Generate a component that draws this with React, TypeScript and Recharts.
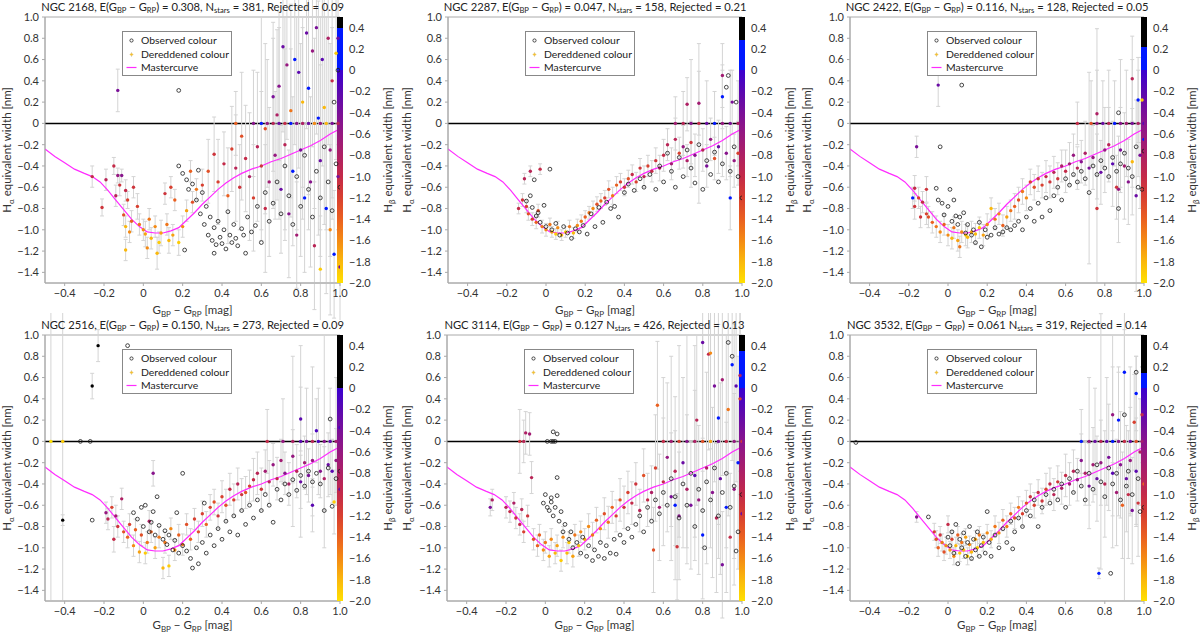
import React from 'react';
import {
  ComposedChart,
  Scatter,
  Line,
  XAxis,
  YAxis,
  ErrorBar,
  ReferenceLine,
  ReferenceArea,
  Label,
} from 'recharts';

// ---- values ----
const clusterNames = ['NGC 2168', 'NGC 2287', 'NGC 2422', 'NGC 2516', 'NGC 3114', 'NGC 3532'];
const reddening = ['0.308', '0.047', '0.116', '0.150', '0.127', '0.061'];
const nStars = [381, 158, 128, 273, 426, 319];
const rejected = ['0.09', '0.21', '0.05', '0.09', '0.13', '0.14'];
const commaAfterE = [true, true, true, true, false, false];
// upper end of the blue band in each colour bar (black above it)
const blueTop = [0.4, 0.28, 0.22, 0.0, 0.35, 0.14];

const xTicks = [-0.4, -0.2, 0, 0.2, 0.4, 0.6, 0.8, 1.0];
const yTicks = [-1.4, -1.2, -1.0, -0.8, -0.6, -0.4, -0.2, 0, 0.2, 0.4, 0.6, 0.8, 1.0];
const cbTicks = [-2.0, -1.8, -1.6, -1.4, -1.2, -1.0, -0.8, -0.6, -0.4, -0.2, 0, 0.2, 0.4];

const masterX = [-0.5, -0.45, -0.4, -0.35, -0.3, -0.26, -0.22, -0.18, -0.14, -0.1, -0.06, -0.02, 0.02, 0.06, 0.1, 0.14, 0.18, 0.22, 0.26, 0.3, 0.34, 0.38, 0.42, 0.46, 0.5, 0.55, 0.6, 0.65, 0.7, 0.75, 0.8, 0.85, 0.9, 0.95, 1.0];
const masterY = [-0.24, -0.31, -0.37, -0.43, -0.47, -0.5, -0.55, -0.63, -0.72, -0.81, -0.9, -0.97, -1.02, -1.03, -1.03, -1.01, -0.98, -0.91, -0.84, -0.76, -0.69, -0.62, -0.56, -0.51, -0.47, -0.43, -0.4, -0.36, -0.33, -0.29, -0.25, -0.21, -0.16, -0.1, -0.05];

// dereddened stars: [colour, Halpha EW, Hbeta EW, error]
const ngc2168Dered = [
  [-0.26,-0.50,-1.0,0.1],[-0.21,-0.79,-1.1,0.08],[-0.19,-0.53,-0.9,0.1],[-0.15,-0.40,-1.0,0.08],[-0.13,-0.49,-0.6,0.07],[-0.11,-0.49,-0.5,0.06],[-0.12,-0.58,-1.1,0.1],[-0.09,-0.63,-1.0,0.1],[-0.14,-0.68,-0.9,0.1],[-0.08,-0.72,-1.2,0.08],[-0.05,-0.60,-1.1,0.1],[-0.03,-0.78,-1.2,0.12],[-0.10,-0.86,-1.3,0.1],[-0.06,-0.92,-1.4,0.1],[-0.09,-0.97,-1.8,0.1],[-0.07,-1.02,-1.6,0.1],[-0.02,-0.95,-1.5,0.1],[0.00,-1.00,-1.6,0.1],[0.01,-1.04,-1.7,0.12],[0.03,-0.90,-1.5,0.1],[0.04,-1.08,-1.8,0.1],[0.06,-0.97,-1.6,0.1],[0.08,-1.12,-1.9,0.1],[0.09,-1.03,-1.7,0.12],[0.11,-0.66,-1.1,0.1],[0.12,-0.95,-1.5,0.1],[0.13,-1.10,-1.8,0.12],[0.15,-1.05,-1.7,0.1],[0.16,-0.72,-1.4,0.1],[0.18,-1.12,-1.9,0.12],[0.2,-0.97,-1.6,0.1],[0.22,-0.82,-1.7,0.1],[-0.09,-1.19,-1.8,0.1],[0.02,-1.17,-1.6,0.1],[0.07,-1.22,-1.8,0.15],[0.14,-0.60,-1.2,0.1],[0.24,-0.45,-1.4,0.1],[0.25,-0.74,-1.3,0.1],[0.27,-0.62,-1.5,0.1],[0.3,-0.58,-1.2,0.15],
  [0.33,-0.45,-1.3,0.3],[0.36,-0.29,-1.1,0.35],[0.38,-0.55,-1.2,0.4],[0.41,-0.38,-1.0,0.3],[0.43,-0.68,-1.4,0.45],[0.45,-0.24,-1.2,0.4],[0.47,-0.42,-0.9,0.5],[0.49,-0.60,-1.1,0.4],[0.5,-0.12,-1.3,0.6],[0.52,-0.33,-1.0,0.5],[0.54,-0.50,-0.8,0.6],[0.56,-0.70,-1.2,0.5],[0.58,-0.22,-0.9,0.7],[0.6,-0.40,-1.1,0.7],[0.62,-0.05,-1.3,0.8],[0.64,-0.55,-0.7,0.7],[0.62,-0.80,-1.0,0.6],
  [0.66,0.25,-0.4,0.7],[0.67,-0.30,-0.6,0.6],[0.68,0.08,-0.8,0.8],[0.69,0.35,-0.5,0.7],[0.7,-0.62,-0.3,0.6],[0.71,0.72,-0.3,0.8],[0.72,-0.20,-0.9,0.9],[0.73,0.55,-0.6,0.7],[0.74,-0.85,-0.5,0.6],[0.75,0.12,-1.5,1.0],[0.76,-0.45,0.2,0.7],[0.77,0.60,0.2,0.8],[0.78,-1.05,-0.7,0.5],[0.79,0.48,-0.2,0.9],[0.8,-0.25,-0.4,1.0],[0.81,0.20,-1.8,0.8],[0.82,-0.70,0.3,0.7],[0.83,0.85,-0.3,0.9],[0.84,0.33,0.2,1.0],[0.85,-0.55,-0.5,0.8],[0.86,0.68,-0.6,0.9],[0.87,-1.15,-0.9,0.6],[0.88,0.90,-0.4,1.0],[0.89,0.05,0.1,1.1],[0.9,-1.37,-1.9,0.5],[0.9,-0.35,-0.3,0.9],[0.91,0.60,-0.2,1.0],[0.92,0.15,-1.8,1.1],[0.93,-0.80,0.2,0.8],[0.94,0.80,-0.8,1.0],[0.95,-0.25,-0.6,1.0],[0.96,0.40,-1.0,1.1],[0.97,-1.23,0.2,0.6],[0.98,0.66,-1.9,1.0],[0.99,-0.50,-0.4,1.0],[0.99,0.80,-0.3,1.0],[1.0,-1.35,-0.3,0.6],[0.95,-1.0,-1.6,0.8],
  [0.47,0,-1.4,0.3],[0.56,0,-0.5,0.5],[0.6,0,0.2,1.0],[0.63,0,-0.6,0.6],[0.66,0,-0.9,0.8],[0.69,0,-0.3,0.9],[0.72,0,-1.0,1.0],[0.75,0,0.1,0.7],[0.78,0,-0.5,1.0],[0.81,0,-0.8,0.9],[0.84,0,-0.3,1.0],[0.87,0,-1.6,0.8],[0.9,0,-0.6,1.0],[0.93,0,-1.8,1.0],[0.96,0,-0.4,0.9],[0.99,0,-0.9,1.0],
  [-0.13,0.31,-0.4,0.2],
];
const ngc2168Obs = [
  [0.18,-0.40],[0.20,-0.47],[0.22,-0.53],[0.23,-0.62],[0.25,-0.57],[0.27,-0.72],[0.28,-0.44],[0.29,-0.85],[0.3,-0.65],[0.31,-0.95],[0.32,-0.78],[0.33,-1.05],[0.34,-0.88],[0.35,-1.1],[0.36,-0.98],[0.37,-1.14],[0.38,-0.92],[0.39,-1.07],[0.4,-1.13],[0.41,-1.0],[0.42,-1.18],[0.43,-0.83],[0.44,-1.05],[0.45,-1.12],[0.46,-0.95],[0.47,-1.08],[0.48,-1.15],[0.5,-0.99],[0.51,-1.05],[0.52,-1.22],[0.53,-0.88],[0.55,-1.02],[0.57,-0.96],[0.58,-0.78],[0.6,-1.12],[0.62,-0.65],[0.64,-0.92],[0.66,-0.75],[0.68,-0.55],[0.7,-0.85],[0.72,-0.40],[0.74,-0.68],[0.76,-0.95],[0.78,-0.50],[0.8,-0.78],[0.82,-0.30],[0.84,-0.62],[0.86,-0.88],[0.88,-0.45],[0.9,-0.70],[0.92,-0.22],[0.94,-0.55],[0.96,-0.82],[0.98,-0.38],[1.0,-0.60],[0.18,0.31],[0.99,0.5],[0.97,0.2],[0.21,-1.19],[0.36,-1.22],
];

const ngc2287Dered = [
  [-0.14,-0.80,-1.0,0.05],[-0.12,-0.72,-1.1,0.06],[-0.11,-0.52,-0.9,0.05],[-0.1,-0.78,-1.2,0.06],[-0.08,-0.45,-0.9,0.05],[-0.09,-0.85,-1.3,0.06],[-0.07,-0.90,-1.2,0.06],[-0.05,-0.93,-1.4,0.06],[-0.04,-0.82,-1.3,0.06],[-0.03,-0.43,-1.0,0.05],[-0.02,-0.97,-1.5,0.06],[0.0,-1.0,-1.6,0.06],[0.02,-0.95,-1.5,0.06],[0.03,-1.02,-1.7,0.05],[0.05,-1.04,-1.9,0.05],[0.06,-0.98,-1.6,0.06],[0.08,-1.05,-1.8,0.05],[0.1,-1.02,-1.9,0.05],[0.12,-0.97,-1.5,0.06],[0.14,-1.03,-1.8,0.05],[0.16,-0.96,-1.6,0.06],[0.18,-0.92,-1.5,0.06],[0.2,-0.88,-1.4,0.06],[0.22,-0.84,-1.5,0.06],[0.24,-0.80,-1.6,0.07],[0.26,-0.76,-1.3,0.07],[0.28,-0.73,-1.4,0.07],[0.3,-0.70,-1.2,0.07],[0.32,-0.62,-1.3,0.08],[0.34,-0.68,-1.5,0.08],[0.36,-0.58,-1.4,0.08],[0.38,-0.55,-1.2,0.08],[0.4,-0.60,-1.1,0.08],[0.42,-0.52,-1.3,0.08],[0.44,-0.48,-1.0,0.09],[0.46,-0.55,-1.2,0.09],[0.48,-0.42,-1.1,0.09],[0.5,-0.50,-0.9,0.1],[0.52,-0.40,-1.2,0.1],[0.54,-0.45,-1.0,0.1],[0.56,-0.35,-1.1,0.12],[0.58,-0.42,-0.8,0.12],[0.6,-0.30,-1.0,0.15],[0.62,-0.20,-0.9,0.15],[0.64,-0.38,-0.7,0.15],[0.66,-0.15,-0.9,0.2],[0.68,-0.28,-1.2,0.15],[0.7,-0.22,-0.6,0.2],[0.72,-0.35,-0.8,0.15],[0.74,-0.18,-1.1,0.2],[0.76,-0.30,-0.5,0.2],[0.78,0.19,-0.7,0.3],[0.8,-0.25,-0.9,0.2],[0.82,-0.40,-0.4,0.2],[0.84,-0.15,-0.6,0.2],[0.86,-0.33,-1.3,0.2],[0.88,-0.22,-0.3,0.25],[0.9,0.45,-0.7,0.3],[0.9,0.25,0.1,0.3],[0.92,-0.28,-0.5,0.25],[0.94,-0.70,0.2,0.3],[0.95,0.20,-0.4,0.3],[0.96,-0.35,-0.6,0.25],[0.98,-0.28,-1.2,0.3],[1.0,0.22,-0.3,0.3],[0.72,0.18,-0.8,0.25],
  [0.66,0,-0.7,0.25],[0.7,0,-0.9,0.3],[0.74,0,-0.5,0.6],[0.78,0,-1.0,0.75],[0.82,0,-0.3,0.4],[0.86,0,0.1,0.3],[0.9,0,-0.6,0.5],[0.94,0,-0.4,0.5],[0.98,0,-0.8,0.4],
];
const ngc2287Obs = [
  [-0.1,-0.73],[-0.08,-0.68],[-0.07,-0.79],[-0.06,-0.53],[-0.05,-0.87],[-0.04,-0.84],[-0.03,-0.93],[-0.01,-0.77],[0.0,-0.97],[0.02,-0.43],[0.03,-1.0],[0.05,-0.94],[0.07,-1.05],[0.09,-0.97],[0.11,-1.03],[0.13,-1.08],[0.15,-0.99],[0.17,-1.02],[0.19,-0.96],[0.21,-1.04],[0.23,-0.85],[0.25,-0.97],[0.27,-0.79],[0.29,-0.93],[0.31,-0.74],[0.33,-0.80],[0.35,-0.78],[0.37,-0.88],[0.4,-0.65],[0.42,-0.57],[0.45,-0.63],[0.48,-0.52],[0.5,-0.60],[0.53,-0.48],[0.56,-0.62],[0.58,-0.40],[0.6,-0.55],[0.62,-0.28],[0.64,-0.45],[0.66,-0.60],[0.68,-0.32],[0.7,-0.50],[0.72,-0.25],[0.74,-0.42],[0.76,-0.56],[0.78,-0.20],[0.8,-0.62],[0.82,-0.35],[0.84,-0.48],[0.86,-0.27],[0.88,-0.55],[0.9,-0.38],[0.92,0.34],[0.93,0.45],[0.94,-0.45],[0.96,-0.22],[0.98,-0.50],[1.0,-0.70],[0.97,0.2],
];

const ngc2422Dered = [
  [-0.18,-0.70,0.1,0.1],[-0.17,-0.61,-1.0,0.12],[-0.17,-0.78,-1.1,0.12],[-0.15,-0.70,-1.2,0.1],[-0.14,-0.88,-1.1,0.1],[-0.13,-0.74,-1.0,0.1],[-0.11,-0.62,-1.1,0.12],[-0.11,-0.85,-1.2,0.1],[-0.1,-0.88,-1.3,0.1],[-0.16,-0.22,-0.4,0.1],[-0.05,0.36,-0.3,0.2],[-0.08,-0.93,-1.4,0.1],[-0.06,-0.97,-1.5,0.1],[-0.04,-1.02,-1.6,0.1],[-0.02,-0.95,-1.4,0.1],[0.0,-1.05,-1.6,0.1],[0.02,-1.08,-1.8,0.1],[0.03,-0.98,-1.5,0.1],[0.05,-1.10,-1.7,0.1],[0.06,-1.16,-1.5,0.1],[0.07,-1.02,-1.6,0.1],[0.09,-1.05,-1.9,0.1],[0.1,-1.07,-1.8,0.1],[0.12,-1.02,-1.7,0.1],[0.14,-1.04,-1.8,0.1],[0.16,-0.98,-1.9,0.1],[0.18,-1.05,-1.7,0.1],[0.2,-0.95,-1.6,0.1],[0.22,-0.80,-1.8,0.1],[0.24,-0.90,-1.5,0.1],[0.26,-0.85,-1.6,0.1],[0.28,-0.96,-1.4,0.1],[0.3,-0.88,-1.7,0.1],[0.32,-0.82,-1.5,0.1],[0.34,-0.78,-1.4,0.12],[0.36,-0.72,-1.3,0.12],[0.38,-0.64,-1.5,0.12],[0.4,-0.70,-1.6,0.12],[0.42,-0.55,-1.2,0.12],[0.44,-0.60,-1.3,0.12],[0.46,-0.52,-1.1,0.12],[0.48,-0.58,-1.2,0.12],[0.5,-0.50,-1.0,0.15],[0.52,-0.55,-1.1,0.15],[0.54,-0.46,-0.9,0.15],[0.56,-0.52,-1.1,0.15],[0.58,-0.40,-0.8,0.15],[0.6,-0.45,-1.0,0.2],[0.62,-0.38,-0.7,0.2],[0.64,-0.30,-0.6,0.2],[0.66,-0.42,-0.9,0.2],[0.68,-0.36,-0.5,0.2],[0.7,-0.28,-0.8,0.3],[0.72,-0.42,-0.4,0.9],[0.74,-0.32,-0.6,0.3],[0.76,0.09,-0.8,0.8],[0.76,-0.80,-1.1,0.7],[0.78,-0.46,-0.3,0.3],[0.8,-0.25,-0.6,0.4],[0.82,-0.20,-0.9,0.35],[0.84,-0.38,-0.2,0.4],[0.86,-0.60,-1.1,0.3],[0.87,-0.62,-0.6,0.5],[0.88,-0.25,-0.4,0.4],[0.9,-0.40,-0.7,0.5],[0.92,-0.55,-0.5,0.4],[0.94,-0.36,-1.8,0.5],[0.94,0.42,-0.9,0.4],[0.96,-0.68,-0.3,0.9],[0.97,0.22,0.1,0.4],[0.99,0.22,-1.9,0.4],[1.0,-0.15,0.2,0.4],[0.98,-0.30,-0.4,0.5],
  [0.66,0,-1.0,0.2],[0.73,0,-1.3,0.4],[0.76,0,-0.6,0.5],[0.79,0,-0.3,0.4],[0.82,0,-0.9,0.5],[0.85,0,0.1,0.4],[0.88,0,-0.5,0.6],[0.91,0,-0.7,0.5],[0.94,0,-0.4,0.6],[0.97,0,-0.8,0.5],[1.0,0,-0.2,0.6],
];
const ngc2422Obs = [
  [-0.06,-0.61],[-0.05,-0.72],[-0.04,-0.22],[-0.03,-0.75],[-0.02,-0.86],[0.0,-0.78],[0.01,-0.62],[0.02,-0.92],[0.03,-0.72],[0.04,-0.87],[0.05,-0.95],[0.06,-0.88],[0.07,0.36],[0.08,-0.84],[0.09,-1.03],[0.1,-0.95],[0.12,-1.05],[0.13,-1.0],[0.14,-1.12],[0.16,-0.93],[0.17,-1.16],[0.19,-1.0],[0.2,-1.07],[0.22,-1.05],[0.24,-0.98],[0.26,-1.04],[0.28,-1.02],[0.3,-0.98],[0.32,-1.0],[0.34,-0.96],[0.36,-0.92],[0.38,-1.0],[0.4,-0.88],[0.42,-0.80],[0.44,-0.92],[0.46,-0.75],[0.48,-0.88],[0.5,-0.70],[0.52,-0.82],[0.54,-0.68],[0.56,-0.60],[0.58,-0.72],[0.6,-0.52],[0.62,-0.58],[0.64,-0.48],[0.66,-0.55],[0.68,-0.45],[0.7,-0.52],[0.72,-0.65],[0.74,-0.40],[0.76,-0.48],[0.78,-0.35],[0.8,-0.42],[0.82,-0.50],[0.84,-0.32],[0.86,-0.45],[0.87,0.10],[0.87,-0.80],[0.88,-0.38],[0.9,-0.28],[0.92,-0.42],[0.94,-0.50],[0.96,-0.22],[0.97,-0.60],[0.99,-0.62],[1.0,-0.26],
];

const ngc2516Dered = [
  [-0.47,0,-2.0,1.5],[-0.41,0,-1.9,1.5],[-0.41,-0.74,0.2,0.05],[-0.26,0.52,0.1,0.12],[-0.23,0.90,0.2,0.15],[-0.19,-0.67,-0.6,0.1],[-0.18,-0.73,-0.9,0.1],[-0.16,-0.62,-1.2,0.1],[-0.15,-0.92,-1.0,0.12],[-0.14,-0.70,-0.7,0.1],[-0.13,-0.80,-1.1,0.1],[-0.11,-0.54,-0.8,0.1],[-0.1,-0.85,-1.3,0.1],[-0.08,-0.90,-1.4,0.1],[-0.07,-0.78,-1.2,0.1],[-0.05,-0.98,-1.6,0.1],[-0.04,-0.83,-1.4,0.1],[-0.02,-1.04,-1.7,0.1],[-0.01,-0.88,-1.3,0.1],[0.01,-1.05,-1.9,0.1],[0.02,-0.95,-1.5,0.1],[0.03,-0.75,-0.8,0.1],[0.04,-0.85,-1.4,0.1],[0.05,-0.30,-0.5,0.12],[0.06,-1.0,-1.7,0.1],[0.08,-0.90,-1.5,0.1],[0.1,-1.19,-1.8,0.1],[0.11,-0.95,-1.5,0.1],[0.13,-1.17,-1.9,0.1],[0.14,-0.82,-1.6,0.1],[0.16,-1.02,-1.6,0.1],[0.18,-0.88,-1.4,0.1],[0.2,-0.97,-1.5,0.1],[0.22,-0.78,-1.3,0.1],[0.24,-0.92,-1.4,0.1],[0.26,-0.73,-1.2,0.1],[0.28,-0.85,-1.3,0.1],[0.3,-0.68,-1.2,0.12],[0.32,-0.78,-1.4,0.12],[0.34,-0.62,-1.2,0.12],[0.36,-0.57,-1.3,0.12],[0.38,-0.70,-1.1,0.12],[0.4,-0.52,-1.2,0.15],[0.42,-0.60,-1.3,0.15],[0.44,-0.45,-1.0,0.15],[0.46,-0.55,-1.2,0.15],[0.48,-0.40,-0.9,0.15],[0.5,-0.50,-1.1,0.15],[0.52,-0.48,-1.3,0.15],[0.54,-0.42,-1.2,0.15],[0.56,-0.36,-1.0,0.2],[0.58,-0.30,-0.9,0.2],[0.6,-0.45,-1.1,0.2],[0.62,-0.28,-0.7,0.2],[0.64,-0.38,-0.9,0.2],[0.66,-0.22,-0.6,0.2],[0.68,-0.35,-1.0,0.2],[0.7,-0.18,-0.7,0.2],[0.72,-0.30,-0.5,0.2],[0.74,-0.40,-0.8,0.2],[0.76,-0.14,-0.6,0.25],[0.78,-0.28,-0.9,0.25],[0.8,0.21,-0.2,0.3],[0.8,-0.38,-0.3,0.25],[0.82,-0.20,-0.7,0.25],[0.84,-0.32,-0.4,0.25],[0.86,-0.18,-0.6,0.25],[0.86,-0.60,-0.2,0.25],[0.88,0.10,-0.1,0.3],[0.9,-0.28,-0.5,0.25],[0.92,-0.35,-0.8,0.3],[0.94,-0.22,-0.3,0.3],[0.96,-0.28,-0.2,0.3],[0.97,-0.57,-1.9,0.3],[0.98,-0.18,-0.6,0.3],[1.0,0.13,-0.1,0.3],[1.0,-0.45,-0.3,0.3],
  [0.63,0,-1.0,0.3],[0.71,0,-0.6,0.4],[0.76,0,-0.8,0.8],[0.8,0,-0.2,0.9],[0.83,0,-0.4,0.5],[0.86,0,-0.9,0.7],[0.89,0,-0.1,0.5],[0.92,0,-0.5,1.0],[0.95,0,-0.2,0.5],[0.98,0,-0.7,0.6],
];
const ngc2516Obs = [
  [-0.32,0],[-0.27,0],[-0.26,-0.74],[-0.08,0.9],[-0.05,-0.67],[-0.03,-0.73],[-0.01,-0.62],[0.0,-0.80],[0.01,-0.60],[0.03,-0.85],[0.04,-0.76],[0.05,-0.66],[0.06,-0.88],[0.07,-0.52],[0.08,-0.79],[0.1,-0.92],[0.11,-0.84],[0.12,-0.97],[0.13,-0.88],[0.15,-1.02],[0.16,-0.93],[0.17,-0.67],[0.18,-1.05],[0.2,-0.30],[0.2,-0.98],[0.22,-1.03],[0.24,-1.1],[0.25,-1.19],[0.27,-1.0],[0.28,-1.15],[0.3,-0.95],[0.31,-0.58],[0.32,-1.05],[0.34,-0.88],[0.36,-0.98],[0.38,-0.82],[0.4,-0.92],[0.42,-0.75],[0.44,-0.85],[0.46,-0.70],[0.48,-0.88],[0.5,-0.65],[0.52,-0.78],[0.54,-0.60],[0.56,-0.72],[0.58,-0.55],[0.6,-0.65],[0.62,-0.50],[0.64,-0.60],[0.66,-0.76],[0.68,-0.45],[0.7,-0.55],[0.72,-0.40],[0.74,-0.50],[0.76,-0.36],[0.78,-0.46],[0.8,-0.32],[0.82,-0.42],[0.84,-0.28],[0.86,-0.38],[0.88,-0.30],[0.9,-0.40],[0.92,-0.65],[0.94,-0.25],[0.95,0.21],[0.96,-0.61],[0.98,-0.35],[1.0,-0.28],
];

const ngc3114Dered = [
  [-0.28,-0.62,-0.4,0.08],[-0.27,-0.55,-0.8,0.1],[-0.2,-0.62,-0.9,0.1],[-0.18,-0.66,-1.0,0.1],[-0.16,-0.58,-0.8,0.1],[-0.15,-0.72,-1.1,0.1],[-0.13,-0.78,-1.0,0.1],[-0.12,-0.64,-0.9,0.1],[-0.11,-0.85,-1.2,0.1],[-0.1,0.08,-0.8,0.2],[-0.08,0.07,-0.7,0.2],[-0.07,-0.34,-0.9,0.15],[-0.09,-0.70,-1.1,0.1],[-0.06,-0.92,-1.3,0.1],[-0.04,-0.98,-1.4,0.1],[-0.03,-0.88,-1.4,0.1],[-0.01,-1.02,-1.6,0.1],[0.0,-0.95,-1.5,0.1],[0.02,-1.08,-1.7,0.1],[0.03,-0.92,-1.6,0.1],[0.05,-1.05,-1.8,0.1],[0.06,-0.98,-1.7,0.1],[0.08,-1.12,-1.9,0.1],[0.09,-0.90,-1.6,0.1],[0.11,-1.05,-1.8,0.1],[0.12,-0.95,-1.9,0.1],[0.14,-1.08,-1.7,0.1],[0.15,-0.88,-1.5,0.1],[0.17,-0.98,-1.8,0.1],[0.18,-0.85,-1.6,0.1],[0.2,-0.92,-1.7,0.1],[0.22,-0.80,-1.6,0.12],[0.24,-0.88,-1.5,0.12],[0.26,-0.74,-1.4,0.12],[0.28,-0.82,-1.6,0.12],[0.3,-0.68,-1.3,0.15],[0.32,-0.76,-1.5,0.15],[0.34,-0.62,-1.4,0.15],[0.36,-0.70,-1.2,0.15],[0.38,-0.55,-1.3,0.2],[0.4,-0.62,-1.1,0.2],[0.42,-0.48,-1.2,0.2],[0.44,-0.58,-1.0,0.2],[0.46,-0.40,-1.1,0.2],[0.48,-0.65,-0.9,0.2],[0.5,-0.32,-1.3,0.25],[0.52,-0.55,-1.0,0.25],[0.54,-0.48,-0.8,0.25],
  [0.55,-1.02,-1.3,0.4],[0.56,-0.25,-1.2,0.5],[0.57,0.34,-1.4,0.6],[0.58,-0.62,-0.7,0.5],[0.6,-0.38,-1.0,0.6],[0.62,-0.15,-0.6,0.7],[0.64,-0.52,-0.4,0.6],[0.66,-0.28,-0.9,0.7],[0.67,-0.99,-1.1,0.5],[0.68,-0.70,-0.5,0.6],[0.7,-0.20,-0.3,0.8],[0.72,-0.45,-0.8,0.7],[0.74,-0.60,-0.4,0.6],[0.76,-0.32,-0.2,0.8],[0.77,0.20,-0.9,0.8],[0.78,-0.55,-0.6,0.7],[0.8,0.93,-0.3,0.9],[0.8,-0.88,0.2,0.6],[0.82,-0.25,-0.8,0.9],[0.83,0.82,-1.0,0.9],[0.84,0.83,-1.6,0.9],[0.85,-0.48,-0.5,0.8],[0.86,0.52,-0.4,0.9],[0.87,-0.72,-0.9,0.7],[0.88,0.22,0.2,1.0],[0.89,-0.35,-0.3,0.9],[0.9,-1.16,-0.4,0.5],[0.9,0.58,-0.7,0.9],[0.92,-0.62,0.1,0.8],[0.93,0.30,-1.5,1.0],[0.94,-0.90,-1.0,0.6],[0.95,0.72,0.2,0.9],[0.96,-0.45,-0.6,0.9],[0.97,0.52,-0.2,0.9],[0.98,-0.20,0.1,1.0],[0.99,0.62,-0.8,0.9],[1.0,-0.68,-0.3,0.8],[0.99,0.40,-1.2,0.9],[0.66,-0.60,0.2,0.7],
  [-0.13,0,-1.1,0.3],[-0.11,0,-0.9,0.2],[0.6,0,-1.0,0.6],[0.64,0,-0.7,0.8],[0.68,0,-1.2,0.9],[0.72,0,-0.5,1.0],[0.76,0,-0.8,0.9],[0.8,0,-1.3,1.0],[0.84,0,-1.7,1.0],[0.88,0,-0.4,1.1],[0.92,0,-1.0,1.0],[0.96,0,-0.6,1.1],[1.0,0,-1.1,1.0],
];
const ngc3114Obs = [
  [0.01,0],[0.03,0],[0.04,0],[0.05,0],[0.04,0.09],[0.06,0.07],[0.06,-0.34],[0.0,-0.50],[0.03,-0.53],[0.06,-0.51],[-0.01,-0.58],[0.01,-0.62],[0.02,-0.65],[0.03,-0.57],[0.04,-0.70],[0.05,-0.62],[0.07,-0.75],[0.08,-0.66],[0.09,-0.85],[0.1,-0.78],[0.12,-0.92],[0.13,-0.85],[0.14,-1.0],[0.16,-0.95],[0.18,-1.05],[0.19,-0.90],[0.21,-1.08],[0.22,-0.98],[0.24,-1.12],[0.25,-1.02],[0.27,-1.08],[0.28,-0.95],[0.3,-1.1],[0.31,-0.98],[0.33,-1.05],[0.35,-0.92],[0.36,-1.06],[0.38,-0.88],[0.4,-0.95],[0.42,-0.82],[0.44,-0.90],[0.46,-0.78],[0.48,-0.70],[0.5,-0.85],[0.52,-0.62],[0.54,-0.75],[0.56,-0.55],[0.58,-0.68],[0.6,-0.48],[0.62,-0.60],[0.64,-0.35],[0.66,-0.52],[0.68,-0.72],[0.7,-0.40],[0.72,-0.60],[0.74,-0.30],[0.76,-0.80],[0.78,-0.45],[0.8,-0.65],[0.81,-1.0],[0.82,-0.38],[0.84,-0.55],[0.86,-0.25],[0.88,-0.70],[0.9,-0.48],[0.92,-0.30],[0.93,0.93],[0.94,-0.62],[0.95,0.80],[0.96,-0.42],[0.97,-1.03],[0.98,-0.85],[1.0,-0.50],
];

const ngc3532Dered = [
  [-0.16,-0.71,-0.5,0.05],[-0.07,-0.85,-1.2,0.08],[-0.06,-0.92,-1.3,0.08],[-0.05,-1.0,-1.4,0.08],[-0.04,-0.88,-1.1,0.08],[-0.03,-0.95,-1.5,0.08],[-0.02,-1.04,-1.3,0.08],[-0.01,-0.98,-1.6,0.08],[0.0,-0.78,-1.0,0.08],[0.01,-1.02,-1.7,0.08],[0.02,-0.92,-1.2,0.08],[0.03,-1.08,-1.6,0.08],[0.04,-0.98,-1.8,0.08],[0.05,-0.88,-1.4,0.08],[0.06,-1.05,-1.9,0.08],[0.07,-0.95,-1.5,0.08],[0.08,-1.02,-1.8,0.08],[0.09,-0.90,-1.7,0.08],[0.1,-1.08,-1.9,0.08],[0.11,-0.97,-1.6,0.08],[0.12,-1.04,-1.8,0.08],[0.14,-0.92,-1.7,0.08],[0.15,-1.0,-1.9,0.08],[0.16,-0.88,-1.5,0.08],[0.18,-0.95,-1.8,0.08],[0.2,-0.86,-1.6,0.08],[0.22,-0.92,-1.7,0.08],[0.24,-0.80,-1.5,0.1],[0.26,-0.86,-1.6,0.1],[0.28,-0.74,-1.4,0.1],[0.3,-0.80,-1.5,0.1],[0.32,-0.68,-1.4,0.1],[0.34,-0.72,-1.3,0.1],[0.36,-0.62,-1.5,0.1],[0.38,-0.68,-1.2,0.12],[0.4,-0.58,-1.3,0.12],[0.42,-0.52,-1.1,0.12],[0.44,-0.60,-1.2,0.12],[0.46,-0.48,-1.0,0.12],[0.48,-0.56,-1.1,0.12],[0.5,-0.45,-1.2,0.15],[0.52,-0.40,-1.0,0.15],[0.54,-0.50,-0.9,0.15],[0.56,-0.38,-1.1,0.15],[0.58,-0.44,-0.8,0.15],[0.6,-0.32,-1.0,0.2],[0.62,-0.40,-0.7,0.2],[0.64,-0.28,-0.9,0.2],[0.66,-0.36,-0.6,0.2],[0.68,-0.18,-0.5,0.25],[0.7,-0.30,-0.8,0.3],[0.72,-0.42,-0.4,0.4],[0.74,-0.22,-0.7,0.35],[0.76,-0.35,-0.3,0.4],[0.77,-1.24,0.1,0.05],[0.78,-0.20,-0.6,0.4],[0.8,-0.40,-0.9,0.5],[0.82,-0.15,-0.4,0.5],[0.84,0.25,-0.6,0.45],[0.84,-0.30,-0.2,0.4],[0.86,-0.48,-0.7,0.5],[0.87,0.20,0.1,0.45],[0.88,-0.22,-0.5,0.5],[0.89,-0.60,-1.4,0.5],[0.9,0.65,0.1,0.4],[0.91,-0.35,-0.3,0.5],[0.92,-0.50,-1.0,0.6],[0.93,-0.18,-0.6,0.5],[0.94,-0.65,-0.4,0.5],[0.95,0.18,-1.2,0.45],[0.96,-0.28,-0.2,0.5],[0.97,-0.58,-1.1,0.5],[0.98,-0.10,-0.8,0.5],[0.99,0.25,-1.0,0.45],[1.0,-0.40,-1.4,0.5],[0.96,0.45,0.1,0.35],
  [0.68,0,0.1,0.3],[0.72,0,-0.6,0.6],[0.75,0,-0.3,0.5],[0.78,0,-0.9,1.2],[0.81,0,-0.2,0.6],[0.84,0,0.1,1.0],[0.87,0,-0.5,0.7],[0.9,0,-1.0,1.5],[0.93,0,-0.3,0.7],[0.96,0,-1.3,0.8],[0.99,0,-0.7,0.7],
];
const ngc3532Obs = [
  [-0.47,-0.01],[-0.1,-0.71],[0.0,-0.90],[0.01,-0.98],[0.02,-0.85],[0.03,-1.05],[0.04,-0.78],[0.05,-1.15],[0.06,-0.92],[0.07,-1.0],[0.08,-0.86],[0.09,-1.08],[0.1,-0.95],[0.11,-0.80],[0.12,-1.1],[0.13,-0.92],[0.14,-1.02],[0.15,-0.85],[0.16,-1.08],[0.17,-0.98],[0.18,-0.90],[0.19,-1.05],[0.2,-0.66],[0.21,-0.95],[0.22,-1.08],[0.24,-0.88],[0.26,-1.0],[0.28,-0.82],[0.3,-0.95],[0.32,-0.75],[0.33,-1.01],[0.34,-0.85],[0.36,-0.72],[0.38,-0.80],[0.4,-0.65],[0.42,-0.70],[0.44,-0.55],[0.46,-0.80],[0.48,-0.62],[0.5,-0.50],[0.52,-0.58],[0.54,-0.45],[0.56,-0.55],[0.58,-0.40],[0.6,-0.62],[0.62,-0.35],[0.64,-0.48],[0.66,-0.28],[0.68,-0.42],[0.7,-0.55],[0.72,-0.30],[0.74,-0.45],[0.76,-0.22],[0.78,-0.38],[0.8,-0.52],[0.82,-0.25],[0.83,-1.24],[0.84,-0.40],[0.86,-0.30],[0.88,-0.55],[0.9,0.25],[0.91,-0.42],[0.92,-0.28],[0.94,-0.50],[0.96,0.65],[0.97,-0.35],[0.98,-0.66],[1.0,-0.62],
];

const deredSets = [ngc2168Dered, ngc2287Dered, ngc2422Dered, ngc2516Dered, ngc3114Dered, ngc3532Dered];
const obsSets = [ngc2168Obs, ngc2287Obs, ngc2422Obs, ngc2516Obs, ngc3114Obs, ngc3532Obs];

// ---- layout / styling ----
const FONT = "Lato, 'DejaVu Sans', sans-serif";
const AXIS_GREY = '#aaaaaa';
const TEXT = '#333333';
const MAGENTA = '#ff2bff';

const layout = [
  { left: 0, top: 0, L: 45, R: 340, T: 17, B: 283, h: 320, lab: 31 },
  { left: 400, top: 0, L: 48, R: 342, T: 17, B: 283, h: 320, lab: 31 },
  { left: 800, top: 0, L: 50, R: 344, T: 17, B: 283, h: 320, lab: 31 },
  { left: 0, top: 313, L: 45, R: 340, T: 22, B: 288, h: 320, lab: 28 },
  { left: 400, top: 313, L: 47, R: 342, T: 22, B: 288, h: 320, lab: 28 },
  { left: 800, top: 313, L: 50, R: 344, T: 22, B: 288, h: 320, lab: 28 },
];

const palette: [number, string][] = [
  [-2.0, '#ffe000'], [-1.8, '#fab80c'], [-1.6, '#f48a14'], [-1.4, '#ea6020'],
  [-1.2, '#d84030'], [-1.0, '#c42a48'], [-0.8, '#ae2064'], [-0.6, '#961880'],
  [-0.4, '#7a1098'], [-0.2, '#5a08b0'], [0, '#3a00d0'],
];

const hex = (c: string) => [1, 3, 5].map((i) => parseInt(c.slice(i, i + 2), 16));

function hbColour(v: number, top: number) {
  if (v > top) return '#000000';
  if (v > 0) return '#0018ff';
  const t = Math.max(-2, v);
  for (let i = 0; i < palette.length - 1; i++) {
    const [a, ca] = palette[i];
    const [b, cb] = palette[i + 1];
    if (t >= a && t <= b) {
      const f = (t - a) / (b - a);
      const A = hex(ca);
      const B = hex(cb);
      return `rgb(${A.map((q, k) => Math.round(q + (B[k] - q) * f)).join(',')})`;
    }
  }
  return palette[palette.length - 1][1];
}

const fmt = (v: number) => (Math.abs(v) < 1e-9 ? '0' : v.toFixed(1).replace('-', '\u2212'));

const master = masterX.map((x, i) => ({ x, y: masterY[i] }));

const subStyle: React.CSSProperties = { fontSize: '0.68em', verticalAlign: '-0.3em', lineHeight: 0 };

function Legend({ x, y }: { x: number; y: number }) {
  const row = { display: 'flex', alignItems: 'center', height: 13.5, whiteSpace: 'nowrap' } as const;
  return (
    <div
      style={{
        position: 'absolute', left: x, top: y, width: 110, height: 45, boxSizing: 'border-box',
        padding: '2px 0', border: '1px solid #888', background: '#fff', fontSize: 10.4,
        color: '#222', lineHeight: '13px', overflow: 'hidden',
      }}
    >
      <div style={row}>
        <svg width={18} height={13} style={{ flex: 'none' }}><circle cx={8.5} cy={6.5} r={1.6} fill="none" stroke="#222" strokeWidth={0.8} /></svg>
        <span>Observed colour</span>
      </div>
      <div style={row}>
        <svg width={18} height={13} style={{ flex: 'none' }}>
          <line x1={8.5} y1={4} x2={8.5} y2={9} stroke="#d8d8d8" />
          <line x1={6.5} y1={6.5} x2={10.5} y2={6.5} stroke="#e0d8c0" />
          <circle cx={8.5} cy={6.5} r={1.3} fill="#f4c030" />
        </svg>
        <span>Dereddened colour</span>
      </div>
      <div style={row}>
        <svg width={18} height={13} style={{ flex: 'none' }}><line x1={3.5} y1={6.5} x2={13.5} y2={6.5} stroke={MAGENTA} strokeWidth={1.2} /></svg>
        <span>Mastercurve</span>
      </div>
    </div>
  );
}

function Panel({ i }: { i: number }) {
  const g = layout[i];
  const top = blueTop[i];
  const dered = deredSets[i].map(([x, y, hb, err]) => ({ x, y, hb, err }));
  const obs = obsSets[i].map(([x, y]) => ({ x, y }));
  const off = (v: number) => (0.5 - v) / 2.5;
  const gid = `cbar${i}`;
  const stops: [number, string][] = [
    [0, '#000000'], [off(top), '#000000'], [off(top), '#0018ff'], [off(0), '#0018ff'],
    ...palette.slice().reverse().map(([v, c]) => [off(v), c] as [number, string]),
  ];
  const midY = (g.T + g.B) / 2;

  return (
    <div style={{ position: 'absolute', left: g.left, top: g.top, width: 400, height: g.h }}>
      <ComposedChart
        width={400}
        height={g.h}
        margin={{ top: g.T, right: 0, bottom: 0, left: 0 }}
        style={{ position: 'absolute', left: 0, top: 0 }}
      >
        <defs>
          <linearGradient id={gid} gradientUnits="userSpaceOnUse" x1={0} y1={g.T} x2={0} y2={g.B}>
            {stops.map(([o, c], k) => (
              <stop key={k} offset={o} stopColor={c} />
            ))}
          </linearGradient>
        </defs>
        <XAxis
          type="number"
          dataKey="x"
          domain={[-0.5, 1.0]}
          ticks={xTicks}
          allowDataOverflow
          tickFormatter={fmt}
          height={g.h - g.B}
          stroke={AXIS_GREY}
          tickSize={3}
          tickMargin={3}
          tick={{ fill: TEXT, fontSize: 11 }}
        >
          <Label
            content={() => (
              <text x={(g.L + g.R) / 2} y={g.B + g.lab} textAnchor="middle" fontSize={11.5} fill={TEXT}>
                G<tspan dy={3} fontSize={8}>BP</tspan>
                <tspan dy={-3}> − G</tspan>
                <tspan dy={3} fontSize={8}>RP</tspan>
                <tspan dy={-3}> [mag]</tspan>
              </text>
            )}
          />
        </XAxis>
        <YAxis
          type="number"
          dataKey="y"
          domain={[-1.5, 1.0]}
          ticks={yTicks}
          allowDataOverflow
          tickFormatter={fmt}
          width={g.L}
          stroke={AXIS_GREY}
          tickSize={3}
          tickMargin={3}
          tick={{ fill: TEXT, fontSize: 11 }}
        >
          <Label
            content={() => (
              <text x={11} y={midY} textAnchor="middle" fontSize={11.5} fill={TEXT} transform={`rotate(-90 11 ${midY})`}>
                H<tspan dy={3} fontSize={8}>α</tspan>
                <tspan dy={-3}> equivalent width [nm]</tspan>
              </text>
            )}
          />
        </YAxis>
        <YAxis yAxisId="pad" orientation="right" width={6} domain={[0, 1]} tick={false} axisLine={false} tickLine={false} />
        <YAxis
          yAxisId="cb"
          orientation="right"
          type="number"
          domain={[-2.0, 0.5]}
          ticks={cbTicks}
          allowDataOverflow
          width={400 - g.R - 6}
          axisLine={{ stroke: `url(#${gid})`, strokeWidth: 6 }}
          tickLine={false}
          tickSize={0}
          tickMargin={9}
          tickFormatter={fmt}
          tick={{ fill: TEXT, fontSize: 11, textAnchor: 'start' }}
        >
          <Label
            content={() => (
              <text x={g.R + 52} y={midY} textAnchor="middle" fontSize={11.5} fill={TEXT} transform={`rotate(-90 ${g.R + 52} ${midY})`}>
                H<tspan dy={3} fontSize={8}>β</tspan>
                <tspan dy={-3}> equivalent width [nm]</tspan>
              </text>
            )}
          />
        </YAxis>
        <ReferenceArea x1={-0.5} x2={1.0} y1={-1.5} y2={1.0} fill="none" stroke={AXIS_GREY} strokeWidth={1} />
        <ReferenceLine y={0} stroke="#000" strokeWidth={1.5} />
        <Scatter
          data={dered}
          dataKey="y"
          isAnimationActive={false}
          shape={(p: any) => <circle cx={p.cx} cy={p.cy} r={1.7} fill={hbColour(p.payload.hb, top)} />}
        >
          <ErrorBar dataKey="err" direction="y" width={2} stroke="#d4d4d4" strokeWidth={1} />
        </Scatter>
        <Scatter
          data={obs}
          dataKey="y"
          isAnimationActive={false}
          shape={(p: any) => <circle cx={p.cx} cy={p.cy} r={1.9} fill="none" stroke="#1a1a1a" strokeWidth={0.8} />}
        />
        <Line data={master} dataKey="y" type="linear" stroke={MAGENTA} strokeWidth={1.2} dot={false} isAnimationActive={false} />
      </ComposedChart>
      <div
        style={{
          position: 'absolute', left: g.L - 30, width: g.R - g.L + 60, top: g.T - 17,
          textAlign: 'center', fontSize: 11.2, color: '#222', whiteSpace: 'nowrap', lineHeight: '14px',
        }}
      >
        {clusterNames[i]}, E(G<sub style={subStyle}>BP</sub> − G<sub style={subStyle}>RP</sub>) = {reddening[i]}
        {commaAfterE[i] ? ',' : ''} N<sub style={subStyle}>stars</sub> = {nStars[i]}, Rejected = {rejected[i]}
      </div>
      <Legend x={g.L + 77} y={g.T + 14} />
    </div>
  );
}

export default function App() {
  return (
    <div style={{ position: 'absolute', left: 0, top: 0, width: 1200, height: 633, background: '#fff', fontFamily: FONT }}>
      {layout.map((_, i) => (
        <Panel key={i} i={i} />
      ))}
    </div>
  );
}
